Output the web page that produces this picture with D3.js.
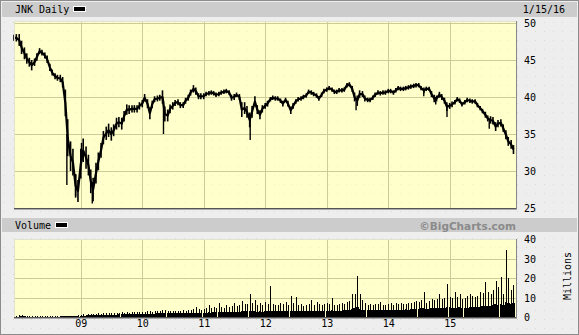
<!DOCTYPE html>
<html><head><meta charset="utf-8">
<script src="https://cdn.jsdelivr.net/npm/d3@7"></script>
<style>html,body{margin:0;padding:0;background:#eeeeee;} svg{display:block}</style>
</head><body>
<svg id="c" width="579" height="335"></svg>
<script>
// ---- data (half-monthly samples) ----
const dates = [
"2007-12-01","2007-12-15",
"2008-01-01","2008-01-15","2008-02-01","2008-02-15","2008-03-01","2008-03-15","2008-04-01","2008-04-15","2008-05-01","2008-05-15","2008-06-01","2008-06-15","2008-07-01","2008-07-15","2008-08-01","2008-08-15","2008-09-01","2008-09-15","2008-10-01","2008-10-15","2008-11-01","2008-11-15","2008-12-01","2008-12-15",
"2009-01-01","2009-01-15","2009-02-01","2009-02-15","2009-03-01","2009-03-15","2009-04-01","2009-04-15","2009-05-01","2009-05-15","2009-06-01","2009-06-15","2009-07-01","2009-07-15","2009-08-01","2009-08-15","2009-09-01","2009-09-15","2009-10-01","2009-10-15","2009-11-01","2009-11-15","2009-12-01","2009-12-15",
"2010-01-01","2010-01-15","2010-02-01","2010-02-15","2010-03-01","2010-03-15","2010-04-01","2010-04-15","2010-05-01","2010-05-15","2010-06-01","2010-06-15","2010-07-01","2010-07-15","2010-08-01","2010-08-15","2010-09-01","2010-09-15","2010-10-01","2010-10-15","2010-11-01","2010-11-15","2010-12-01","2010-12-15",
"2011-01-01","2011-01-15","2011-02-01","2011-02-15","2011-03-01","2011-03-15","2011-04-01","2011-04-15","2011-05-01","2011-05-15","2011-06-01","2011-06-15","2011-07-01","2011-07-15","2011-08-01","2011-08-15","2011-09-01","2011-09-15","2011-10-01","2011-10-15","2011-11-01","2011-11-15","2011-12-01","2011-12-15",
"2012-01-01","2012-01-15","2012-02-01","2012-02-15","2012-03-01","2012-03-15","2012-04-01","2012-04-15","2012-05-01","2012-05-15","2012-06-01","2012-06-15","2012-07-01","2012-07-15","2012-08-01","2012-08-15","2012-09-01","2012-09-15","2012-10-01","2012-10-15","2012-11-01","2012-11-15","2012-12-01","2012-12-15",
"2013-01-01","2013-01-15","2013-02-01","2013-02-15","2013-03-01","2013-03-15","2013-04-01","2013-04-15","2013-05-01","2013-05-15","2013-06-01","2013-06-15","2013-07-01","2013-07-15","2013-08-01","2013-08-15","2013-09-01","2013-09-15","2013-10-01","2013-10-15","2013-11-01","2013-11-15","2013-12-01","2013-12-15",
"2014-01-01","2014-01-15","2014-02-01","2014-02-15","2014-03-01","2014-03-15","2014-04-01","2014-04-15","2014-05-01","2014-05-15","2014-06-01","2014-06-15","2014-07-01","2014-07-15","2014-08-01","2014-08-15","2014-09-01","2014-09-15","2014-10-01","2014-10-15","2014-11-01","2014-11-15","2014-12-01","2014-12-15",
"2015-01-01","2015-01-15","2015-02-01","2015-02-15","2015-03-01","2015-03-15","2015-04-01","2015-04-15","2015-05-01","2015-05-15","2015-06-01","2015-06-15","2015-07-01","2015-07-15","2015-08-01","2015-08-15","2015-09-01","2015-09-15","2015-10-01","2015-10-15","2015-11-01","2015-11-15","2015-12-01","2015-12-15",
"2016-01-01","2016-01-15"];

const closes = [
48.0,48.0,47.7,46.7,45.9,45.2,44.7,44.3,44.7,45.4,
46.2,46.0,45.6,45.1,44.0,43.3,42.8,42.6,42.5,42.0,
39.2,34.5,32.0,31.2,28.0,27.3,31.0,32.8,31.8,30.8,
28.6,27.5,29.7,31.3,32.8,34.5,35.1,35.5,35.0,35.5,
36.4,36.6,36.4,37.4,38.3,38.3,38.4,38.4,38.4,38.8,
39.1,39.9,39.1,37.8,39.0,39.7,39.8,39.9,40.0,37.7,
37.5,38.4,38.8,39.2,39.3,38.9,38.9,39.5,39.9,40.6,
41.1,40.8,40.1,40.1,40.1,40.4,40.5,40.6,40.5,40.3,
40.4,40.6,40.7,40.8,40.6,39.9,40.0,40.3,40.0,38.3,
38.5,38.0,36.9,38.0,39.4,38.3,37.6,38.4,38.8,39.1,
39.7,39.9,39.8,39.8,39.5,39.1,39.6,39.1,38.2,38.8,
39.4,39.7,39.8,40.0,40.2,40.7,40.6,40.4,40.2,39.8,
40.3,40.8,41.0,41.2,41.0,40.7,40.7,40.9,40.9,41.0,
41.6,41.7,41.1,40.0,39.5,40.4,40.4,39.8,39.6,39.6,
39.9,40.3,40.6,40.5,40.6,40.6,40.8,40.8,40.6,40.9,
41.2,41.1,41.1,41.2,41.3,41.4,41.5,41.6,41.6,41.2,
40.9,41.1,41.1,40.4,39.8,39.8,40.3,40.0,39.5,38.7,
38.8,39.0,39.3,39.7,39.5,39.0,39.3,39.6,39.5,39.4,
39.4,38.9,38.5,38.1,37.6,37.1,36.9,36.8,36.0,36.4,
36.5,35.8,34.9,34.0,33.6,32.9];

// typical half-width of the daily high-low range around each sample
const halfRange = [
0.4,0.5,0.8,0.9,0.8,0.7,0.6,0.7,0.5,0.5,
0.4,0.4,0.4,0.5,0.5,0.4,0.4,0.4,0.5,0.7,
1.8,2.5,2.0,1.8,1.6,1.5,2.0,1.6,1.5,1.4,
1.6,1.6,1.4,1.2,1.0,0.9,0.9,0.9,0.9,0.8,
0.8,0.7,0.8,0.7,0.7,0.6,0.5,0.5,0.5,0.5,
0.5,0.5,0.6,0.8,0.5,0.4,0.4,0.4,0.9,1.0,
0.8,0.6,0.5,0.4,0.4,0.4,0.4,0.4,0.4,0.4,
0.5,0.5,0.4,0.4,0.4,0.3,0.3,0.3,0.3,0.3,
0.3,0.3,0.3,0.3,0.3,0.4,0.4,0.3,0.4,1.0,
0.8,0.8,1.0,0.8,0.7,0.6,0.6,0.5,0.4,0.4,
0.3,0.3,0.3,0.3,0.3,0.4,0.3,0.4,0.5,0.4,
0.3,0.3,0.3,0.3,0.3,0.3,0.3,0.3,0.3,0.3,
0.3,0.3,0.3,0.3,0.3,0.3,0.3,0.3,0.3,0.3,
0.3,0.3,0.4,0.6,0.7,0.5,0.4,0.4,0.3,0.3,
0.3,0.3,0.3,0.3,0.3,0.3,0.3,0.3,0.3,0.3,
0.3,0.3,0.3,0.3,0.3,0.3,0.3,0.3,0.3,0.3,
0.4,0.3,0.3,0.4,0.5,0.4,0.4,0.4,0.4,0.6,
0.4,0.4,0.3,0.3,0.3,0.3,0.3,0.3,0.3,0.3,
0.3,0.3,0.3,0.3,0.4,0.4,0.5,0.5,0.6,0.5,
0.5,0.5,0.6,0.6,0.6,0.6];

// intraday range spikes (high / low) visible on the chart
const spikeDates = ["2008-10-10","2008-12-01","2009-01-05","2009-03-10","2010-05-07","2011-10-04","2013-06-24","2014-07-31","2014-10-10","2014-12-16","2015-08-24"];
const spikeHighs = [35.0,29.5,33.8,28.5,39.5,37.5,39.8,41.0,40.0,39.0,37.0];
const spikeLows  = [28.1,26.6,31.0,25.6,35.0,34.2,38.2,40.1,39.0,37.3,35.7];

// volume in millions: typical level and biggest day in each half-month
const volBase = [
0.2,0.2,0.2,0.3,0.3,0.2,0.2,0.2,0.2,0.2,
0.2,0.2,0.2,0.2,0.2,0.2,0.2,0.2,0.2,0.3,
0.3,0.3,0.3,0.3,0.3,0.4,0.6,0.7,0.7,0.8,
0.8,0.9,0.9,1.0,1.0,1.0,1.1,1.1,1.2,1.2,
1.2,1.3,1.3,1.3,1.4,1.4,1.4,1.5,1.5,1.5,
1.6,1.6,1.7,1.7,1.7,1.7,1.8,1.8,2.2,2.0,
1.9,1.8,1.8,1.8,1.9,1.9,1.9,2.0,2.0,2.1,
2.2,2.3,2.2,2.1,2.2,2.3,2.4,2.3,2.4,2.4,
2.5,2.5,2.5,2.6,2.5,2.6,2.6,2.7,2.8,3.2,
3.0,2.9,3.2,2.9,2.9,2.8,2.9,2.8,2.9,3.0,
3.3,3.1,3.0,3.0,3.1,3.2,3.1,3.0,3.3,3.2,
3.2,3.1,3.0,3.1,3.1,3.2,3.2,3.1,3.2,3.3,
3.2,3.2,3.3,3.3,3.4,3.3,3.3,3.2,3.3,3.4,
3.5,3.6,4.0,4.5,5.0,4.2,3.8,3.6,3.5,3.4,
3.4,3.5,3.5,3.6,3.5,3.6,3.6,3.7,3.8,3.8,
3.7,3.8,3.8,3.9,3.8,3.9,4.0,4.1,4.2,4.4,
4.8,4.3,4.2,4.5,4.8,4.6,4.8,4.6,4.5,5.2,
4.9,4.6,4.8,4.7,4.9,4.8,4.7,4.8,5.0,5.0,
5.0,5.1,5.3,5.5,5.8,5.6,5.8,6.0,6.5,6.2,
6.5,6.2,7.5,7.0,6.8,7.0];
const volPeak = [
0.4,0.5,1.0,0.8,0.6,0.5,0.4,0.4,0.4,0.4,
0.4,0.4,0.5,0.4,0.4,0.4,0.4,0.4,0.5,0.6,
0.6,0.7,0.6,0.6,0.7,0.8,1.2,1.3,1.2,1.5,
1.4,1.6,1.5,1.8,1.7,1.9,2.0,1.8,2.1,2.0,
2.2,2.1,2.4,2.2,2.5,2.3,2.6,2.4,2.6,2.7,
2.8,2.6,3.0,2.9,2.7,3.1,2.9,3.2,3.6,3.4,
3.0,3.2,2.9,3.1,3.3,3.0,3.4,3.2,3.5,3.8,
4.0,5.0,4.0,3.6,4.2,4.4,6.0,4.5,5.0,4.8,
7.3,5.2,4.8,6.0,5.0,5.5,7.3,5.4,6.2,8.0,
6.5,6.8,11.8,7.0,8.7,6.0,7.0,6.2,7.9,6.5,
15.9,6.8,6.0,6.4,7.0,6.5,7.9,6.2,11.0,7.2,
10.4,6.0,6.5,5.8,6.2,6.8,8.7,6.4,7.9,6.8,
6.2,6.5,7.0,6.8,9.9,6.4,6.0,6.6,7.0,6.8,
7.5,8.0,11.8,12.0,21.0,12.0,8.7,7.3,6.0,6.8,
6.2,6.5,6.8,7.9,6.4,6.0,6.8,7.3,6.0,7.0,
6.8,7.2,6.6,6.5,7.0,7.4,7.6,8.0,7.8,8.5,
13.0,7.3,8.4,9.4,8.8,9.0,11.8,9.2,9.6,17.0,
10.4,9.8,13.0,10.2,11.8,9.4,10.0,10.6,12.0,10.8,
10.4,11.0,13.0,12.4,18.0,12.6,12.0,13.8,18.6,15.4,
20.7,12.0,34.4,19.8,13.8,16.4];

const priceTicks = [25,30,35,40,45,50];
const volTicks = [0,10,20,30,40];
const yearTickDates = ["2009-01-01","2010-01-01","2011-01-01","2012-01-01","2013-01-01","2014-01-01","2015-01-01"];
const yearTickLabels = ["09","10","11","12","13","14","15"];
const titleText = "JNK Daily";
const dateText = "1/15/16";
const volTitle = "Volume";
const creditText = "\u00A9BigCharts.com";
const unitText = "Millions";

// ---- drawing ----
const parse = d3.timeParse("%Y-%m-%d");
const W = 579, H = 335;
const svg = d3.select("#c");
const MONO = "'DejaVu Sans Mono', 'Liberation Mono', monospace";

const L = 14, R = 515;
const pTop = 21, pBot = 208;
const vTop = 239, vBot = 317;

const x = d3.scaleTime().domain([parse("2007-12-01"), parse("2016-01-24")]).range([L, R]);
const y = d3.scaleLinear().domain([25, 50]).range([208, 23]);
const yv = d3.scaleLinear().domain([0, 40]).range([317, 239]);

const defs = svg.append("defs");
const pat = defs.append("pattern").attr("id","dots").attr("width",9).attr("height",9).attr("patternUnits","userSpaceOnUse");
pat.append("rect").attr("width",9).attr("height",9).attr("fill","#eeeeee");
pat.append("rect").attr("x",4).attr("y",4).attr("width",1).attr("height",1).attr("fill","#dcdcc0");
const pat2 = defs.append("pattern").attr("id","pdots").attr("width",9).attr("height",9).attr("patternUnits","userSpaceOnUse");
pat2.append("rect").attr("width",9).attr("height",9).attr("fill","#ffffcc");
pat2.append("rect").attr("x",4).attr("y",4).attr("width",1).attr("height",1).attr("fill","#f0f0c0");

// background + outer frame
svg.append("rect").attr("width",W).attr("height",H).attr("fill","url(#dots)");
svg.append("rect").attr("x",0.5).attr("y",0.5).attr("width",W-1).attr("height",H-1)
  .attr("fill","none").attr("stroke","#8c8c8c");

// header bars
function bar(y0, h){
  svg.append("rect").attr("x",2).attr("y",y0).attr("width",W-4).attr("height",h).attr("fill","#cccccc");
}
bar(2, 15);
bar(218, 14);

svg.append("text").attr("x",15).attr("y",13).attr("font-family",MONO).attr("font-size",10).attr("fill","#000").text(titleText);
svg.append("rect").attr("x",73).attr("y",6).attr("width",13).attr("height",6).attr("fill","#fff");
svg.append("rect").attr("x",74).attr("y",7).attr("width",11).attr("height",4).attr("fill","#000");
svg.append("text").attr("x",565).attr("y",13).attr("text-anchor","end").attr("font-family",MONO).attr("font-size",10).attr("fill","#000").text(dateText);

svg.append("text").attr("x",15).attr("y",229).attr("font-family",MONO).attr("font-size",10).attr("fill","#000").text(volTitle);
svg.append("rect").attr("x",55).attr("y",222).attr("width",13).attr("height",6).attr("fill","#fff");
svg.append("rect").attr("x",56).attr("y",223).attr("width",11).attr("height",4).attr("fill","#000");
svg.append("text").attr("x",516).attr("y",229.5).attr("text-anchor","end")
  .attr("font-family","'DejaVu Sans', Verdana, sans-serif").attr("font-weight","bold").attr("font-size",10.5)
  .attr("fill","#8a8a8a").text(creditText);

// panels
function panel(t, b){
  svg.append("rect").attr("x",L).attr("y",t).attr("width",R-L+1).attr("height",b-t).attr("fill","url(#pdots)");
}
panel(pTop, pBot);
panel(vTop, vBot);

const grid = svg.append("g").attr("stroke","#cccc99").attr("stroke-width",1).attr("shape-rendering","crispEdges");
priceTicks.filter(v => v > 25).forEach(v => {
  grid.append("line").attr("x1",L).attr("x2",R+1).attr("y1",Math.round(y(v))+0.5).attr("y2",Math.round(y(v))+0.5);
});
volTicks.filter(v => v > 0 && v < 40).forEach(v => {
  grid.append("line").attr("x1",L).attr("x2",R+1).attr("y1",Math.round(yv(v))+0.5).attr("y2",Math.round(yv(v))+0.5);
});
yearTickDates.forEach(d => {
  const xx = Math.round(x(parse(d))) + 0.5;
  grid.append("line").attr("x1",xx).attr("x2",xx).attr("y1",pTop).attr("y2",pBot);
  grid.append("line").attr("x1",xx).attr("x2",xx).attr("y1",vTop).attr("y2",vBot);
});

// price line
const pts = dates.map((d,i) => ({date: parse(d), close: closes[i], hr: halfRange[i]}));
const line = d3.line().x(d => x(d.date)).y(d => y(d.close));
svg.append("path").datum(pts).attr("d", line).attr("fill","none").attr("stroke","#000")
  .attr("stroke-width",2.2).attr("stroke-linejoin","round");
svg.append("g").selectAll("line").data(pts).join("line")
  .attr("x1",d => x(d.date)).attr("x2",d => x(d.date))
  .attr("y1",d => y(d.close + d.hr)).attr("y2",d => y(d.close - d.hr))
  .attr("stroke","#000").attr("stroke-width",1.6);
svg.append("g").selectAll("line").data(spikeDates).join("line")
  .attr("x1",d => x(parse(d))).attr("x2",d => x(parse(d)))
  .attr("y1",(d,i) => y(spikeHighs[i])).attr("y2",(d,i) => y(spikeLows[i]))
  .attr("stroke","#000").attr("stroke-width",1.4);

// volume
const step = x(parse("2008-01-15")) - x(parse("2008-01-01"));
const vol = svg.append("g").attr("shape-rendering","crispEdges");
vol.selectAll("rect.b").data(dates).join("rect").attr("class","b")
  .attr("x",d => x(parse(d)) - step/2).attr("width",step + 0.3)
  .attr("y",(d,i) => yv(volBase[i])).attr("height",(d,i) => yv(0) - yv(volBase[i]))
  .attr("fill","#000");
vol.selectAll("line.p").data(dates).join("line").attr("class","p")
  .attr("x1",d => Math.round(x(parse(d)))+0.5).attr("x2",d => Math.round(x(parse(d)))+0.5)
  .attr("y1",(d,i) => yv(volPeak[i])).attr("y2",yv(0))
  .attr("stroke","#000").attr("stroke-width",1);

// panel borders (inset look)
function borders(t, b){
  const g = svg.append("g").attr("shape-rendering","crispEdges");
  g.append("line").attr("x1",L).attr("x2",R+1).attr("y1",t+0.5).attr("y2",t+0.5).attr("stroke","#e2e2d0");
  g.append("line").attr("x1",L+0.5).attr("x2",L+0.5).attr("y1",t).attr("y2",b).attr("stroke","#e2e2d0");
  g.append("line").attr("x1",L).attr("x2",R+2).attr("y1",b+0.5).attr("y2",b+0.5).attr("stroke","#555").attr("stroke-width",1);
  g.append("line").attr("x1",L).attr("x2",R+2).attr("y1",b+1.5).attr("y2",b+1.5).attr("stroke","#aaa").attr("stroke-width",1);
  g.append("line").attr("x1",R+1.5).attr("x2",R+1.5).attr("y1",t).attr("y2",b+1).attr("stroke","#888");
}
borders(pTop, pBot);
borders(vTop, vBot);

// axis labels (right side)
const yAxis = d3.axisRight(y).tickValues(priceTicks).tickSize(0).tickPadding(0).tickFormat(d3.format("d"));
svg.append("g").attr("transform",`translate(524,0)`).call(yAxis)
  .call(g => g.select(".domain").remove())
  .call(g => g.selectAll("text").attr("font-family",MONO).attr("font-size",10).attr("fill","#000").attr("dy","0.35em"));
const vAxis = d3.axisRight(yv).tickValues(volTicks).tickSize(0).tickPadding(0).tickFormat(d3.format("d"));
svg.append("g").attr("transform",`translate(524,0)`).call(vAxis)
  .call(g => g.select(".domain").remove())
  .call(g => g.selectAll("text").attr("font-family",MONO).attr("font-size",10).attr("fill","#000").attr("dy","0.35em"));

const xAxis = d3.axisBottom(x).tickValues(yearTickDates.map(parse)).tickSize(0).tickPadding(0)
  .tickFormat((d,i) => yearTickLabels[i]);
svg.append("g").attr("transform",`translate(0,320)`).call(xAxis)
  .call(g => g.select(".domain").remove())
  .call(g => g.selectAll("text").attr("font-family",MONO).attr("font-size",10).attr("fill","#000").attr("dy","0.71em"));

svg.append("text").attr("transform","translate(571,276) rotate(-90)").attr("text-anchor","middle")
  .attr("font-family",MONO).attr("font-size",10).attr("fill","#000").text(unitText);
</script>
</body></html>
